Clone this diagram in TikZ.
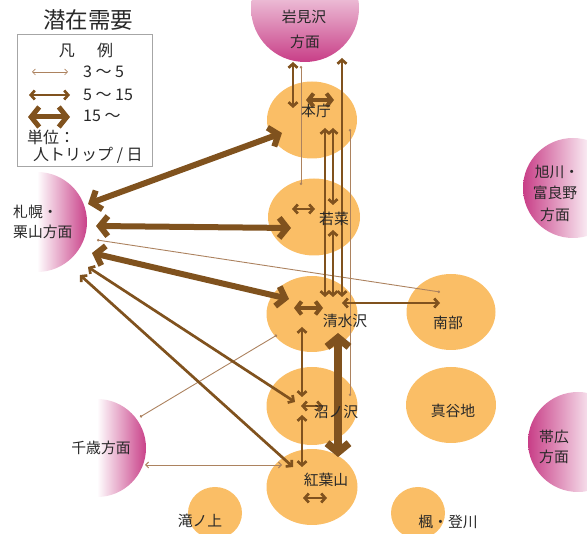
\documentclass[tikz,border=0pt]{standalone}
\usepackage{fontspec}
\setmainfont{Noto Sans CJK JP}
\usetikzlibrary{arrows.meta,shapes.geometric}
\definecolor{orng}{RGB}{250,190,102}
\definecolor{brn}{RGB}{128,82,30}
\definecolor{brnl}{RGB}{172,130,95}
\definecolor{pnk}{RGB}{200,62,135}
\definecolor{txt}{RGB}{40,40,40}
\tikzset{
 place/.style={ellipse, fill=orng, draw=none, inner sep=0pt},
 lbl/.style={font=\fontsize{14.8}{17}\selectfont, text=txt, inner sep=0pt},
 lgd/.style={font=\fontsize{16}{18}\selectfont, text=txt, inner sep=0pt},
 bigarr/.style={draw=brn, line width=6pt, {Straight Barb[length=8pt,width=20pt]}-{Straight Barb[length=8pt,width=20pt]}},
 hugearr/.style={draw=brn, line width=7.5pt, {Straight Barb[length=9pt,width=22pt]}-{Straight Barb[length=9pt,width=22pt]}},
 shortbig/.style={draw=brn, line width=4pt, {Straight Barb[length=5pt,width=13pt]}-{Straight Barb[length=5pt,width=13pt]}},
 midarr/.style={draw=brn, line width=2.7pt, {Straight Barb[length=4pt,width=9pt]}-{Straight Barb[length=4pt,width=9pt]}},
 thinarr/.style={draw=brnl, line width=0.9pt, {Straight Barb[length=3pt,width=6pt]}-{Straight Barb[length=3pt,width=6pt]}},
 thinline/.style={draw=brnl, line width=0.9pt, {Circle[length=2.5pt]}-{Circle[length=2.5pt]}},
}
\begin{document}
\begin{tikzpicture}[x=1pt,y=-1pt]
\useasboundingbox (0,0) rectangle (587,534);
\clip (0,0) rectangle (587,534);

% ---- regions (pink gradient half disks)
\begin{scope}
 \clip (305,8) circle [radius=54pt];
 \shade[top color=white, bottom color=pnk] (250,-35) rectangle (360,62);
\end{scope}
\begin{scope}
 \clip (37,222) circle [radius=50pt];
 \clip (37,160) rectangle (100,280);
 \shade[left color=white, right color=pnk] (37,160) rectangle (88,280);
\end{scope}
\begin{scope}
 \clip (97,448) circle [radius=49pt];
 \clip (97,390) rectangle (150,500);
 \shade[left color=white, right color=pnk] (97,390) rectangle (147,500);
\end{scope}
\begin{scope}
 \clip (573,188) circle [radius=50pt];
 \shade[left color=pnk, right color=white] (523,130) rectangle (595,240);
\end{scope}
\begin{scope}
 \clip (578,442) circle [radius=50pt];
 \shade[left color=pnk, right color=white] (528,390) rectangle (600,495);
\end{scope}
\coordinate (iwa) at (305,8);
\coordinate (sap) at (37,222);
\coordinate (chi) at (97,448);
\coordinate (asa) at (573,188);
\coordinate (obi) at (578,442);

% ---- places
\node[place, minimum width=90pt, minimum height=77pt] (honcho) at (312,120) {};
\node[place, minimum width=92pt, minimum height=77pt] (wakana) at (314,217) {};
\node[place, minimum width=91pt, minimum height=76pt] (shimizu) at (312,314) {};
\node[place, minimum width=89pt, minimum height=76pt] (nanbu) at (451,312) {};
\node[place, minimum width=91pt, minimum height=78pt] (numa) at (312,406) {};
\node[place, minimum width=91pt, minimum height=76pt] (momiji) at (312,487) {};
\node[place, minimum width=90pt, minimum height=76pt] (maya) at (451,405) {};
\node[place, minimum width=54pt, minimum height=52pt] (taki) at (215,513) {};
\node[place, minimum width=54pt, minimum height=52pt] (kaede) at (418,513) {};

% ---- arrow end points
\coordinate (s1) at (88,204);   \coordinate (h1) at (282,133);
\coordinate (s2) at (96,226);   \coordinate (w1) at (291,228);
\coordinate (s3) at (92,253);   \coordinate (sh1) at (289,299);
\coordinate (s4) at (97,240);   \coordinate (n1) at (440,292);
\coordinate (s5) at (88,267);   \coordinate (nu1) at (295,402);
\coordinate (s6) at (80,275);   \coordinate (m1) at (293,467);
\coordinate (i1) at (293,62);   \coordinate (h2) at (293,108);
\coordinate (i2) at (301,66);   \coordinate (w2) at (301,185);
\coordinate (i3) at (342,58);   \coordinate (sh2) at (342,297);
\coordinate (h3) at (325,128);  \coordinate (sh3) at (325,297);
\coordinate (h4) at (333,128);  \coordinate (w3) at (333,205);
\coordinate (w4) at (333,230);  \coordinate (sh4) at (333,297);
\coordinate (h5) at (350,129);  \coordinate (nu2) at (350,396);
\coordinate (hA) at (306,100);  \coordinate (hB) at (334,100);
\coordinate (wA) at (292,209);  \coordinate (wB) at (315,209);
\coordinate (shA) at (294,308); \coordinate (shB) at (323,308);
\coordinate (sh5) at (342,303); \coordinate (n2) at (440,303);
\coordinate (sh6) at (338,333); \coordinate (m2) at (338,457);
\coordinate (sh7) at (302,327); \coordinate (nu3) at (302,397);
\coordinate (nu4) at (302,415); \coordinate (m3) at (302,467);
\coordinate (nuA) at (301,406); \coordinate (nuB) at (323,406);
\coordinate (mA) at (303,498);  \coordinate (mB) at (327,498);
\coordinate (c1) at (140,417);  \coordinate (sh8) at (277,335);
\coordinate (c2) at (145,465);  \coordinate (m4) at (282,465);

% ---- connectors
\draw[thinline] (s4) -- (n1);
\draw[thinline] (i2) -- (w2);
\draw[thinline] (h5) -- (nu2);
\draw[thinline] (c1) -- (sh8);
\draw[thinarr] (c2) -- (m4);
\draw[bigarr] (s1) -- (h1);
\draw[bigarr] (s2) -- (w1);
\draw[bigarr] (s3) -- (sh1);
\draw[midarr] (s5) -- (nu1);
\draw[midarr] (s6) -- (m1);
\draw[midarr] (i1) -- (h2);
\draw[midarr] (i3) -- (sh2);
\draw[midarr] (h3) -- (sh3);
\draw[midarr] (h4) -- (w3);
\draw[midarr] (w4) -- (sh4);
\draw[shortbig] (hA) -- (hB);
\draw[midarr] (wA) -- (wB);
\draw[shortbig] (shA) -- (shB);
\draw[midarr] (sh5) -- (n2);
\draw[hugearr] (sh6) -- (m2);
\draw[midarr] (sh7) -- (nu3);
\draw[midarr] (nu4) -- (m3);
\draw[midarr] (nuA) -- (nuB);
\draw[midarr] (mA) -- (mB);

% ---- labels
\node[lbl] (t1) at (316,111) {本庁};
\node[lbl] (t2) at (334,219) {若菜};
\node[lbl] (t3) at (345,321) {清水沢};
\node[lbl] (t4) at (448,323) {南部};
\node[lbl] (t5) at (336,412) {沼ノ沢};
\node[lbl] (t6) at (326,480) {紅葉山};
\node[lbl] (t7) at (453,411) {真谷地};
\node[lbl] (t8) at (200,521) {滝ノ上};
\node[lbl] (t9) at (448,522) {楓・登川};
\node[lbl] (t10) at (101,448) {千歳方面};
\node[lbl] (t11) at (304,17) {岩見沢};
\node[lbl] (t12) at (305,42) {方面};
\node[lbl, anchor=west] (t13) at (13,212) {札幌・};
\node[lbl, anchor=west] (t14) at (13,232) {栗山方面};
\node[lbl] (t15) at (557,172) {旭川・};
\node[lbl] (t16) at (555,193) {富良野};
\node[lbl] (t17) at (555,215) {方面};
\node[lbl] (t18) at (554,437) {帯広};
\node[lbl] (t19) at (554,457) {方面};

% ---- title & legend
\node[font=\fontsize{22.5}{26}\selectfont, text=txt, inner sep=0pt] (title) at (88,20) {潜在需要};
\node[draw=gray!70, line width=0.7pt, minimum width=135pt, minimum height=132pt, inner sep=0pt] (legend) at (84.5,100) {};
\node[lgd] (lg0) at (86,50) {凡\hspace{1.4em}例};
\coordinate (la1) at (32,72); \coordinate (lb1) at (68,72);
\coordinate (la2) at (29,95); \coordinate (lb2) at (70,95);
\coordinate (la3) at (28,117); \coordinate (lb3) at (70,117);
\draw[thinarr, line width=0.7pt] (la1) -- (lb1);
\draw[midarr] (la2) -- (lb2);
\draw[bigarr, line width=5pt] (la3) -- (lb3);
\node[lgd, anchor=west] (lg1) at (83,72) {3 ～ 5};
\node[lgd, anchor=west] (lg2) at (83,95) {5 ～ 15};
\node[lgd, anchor=west] (lg3) at (83,116) {15 ～};
\node[lgd, anchor=west] (lg4) at (27,137) {単位：};
\node[lgd, anchor=west] (lg5) at (33,155) {人トリップ / 日};
\end{tikzpicture}
\end{document}
